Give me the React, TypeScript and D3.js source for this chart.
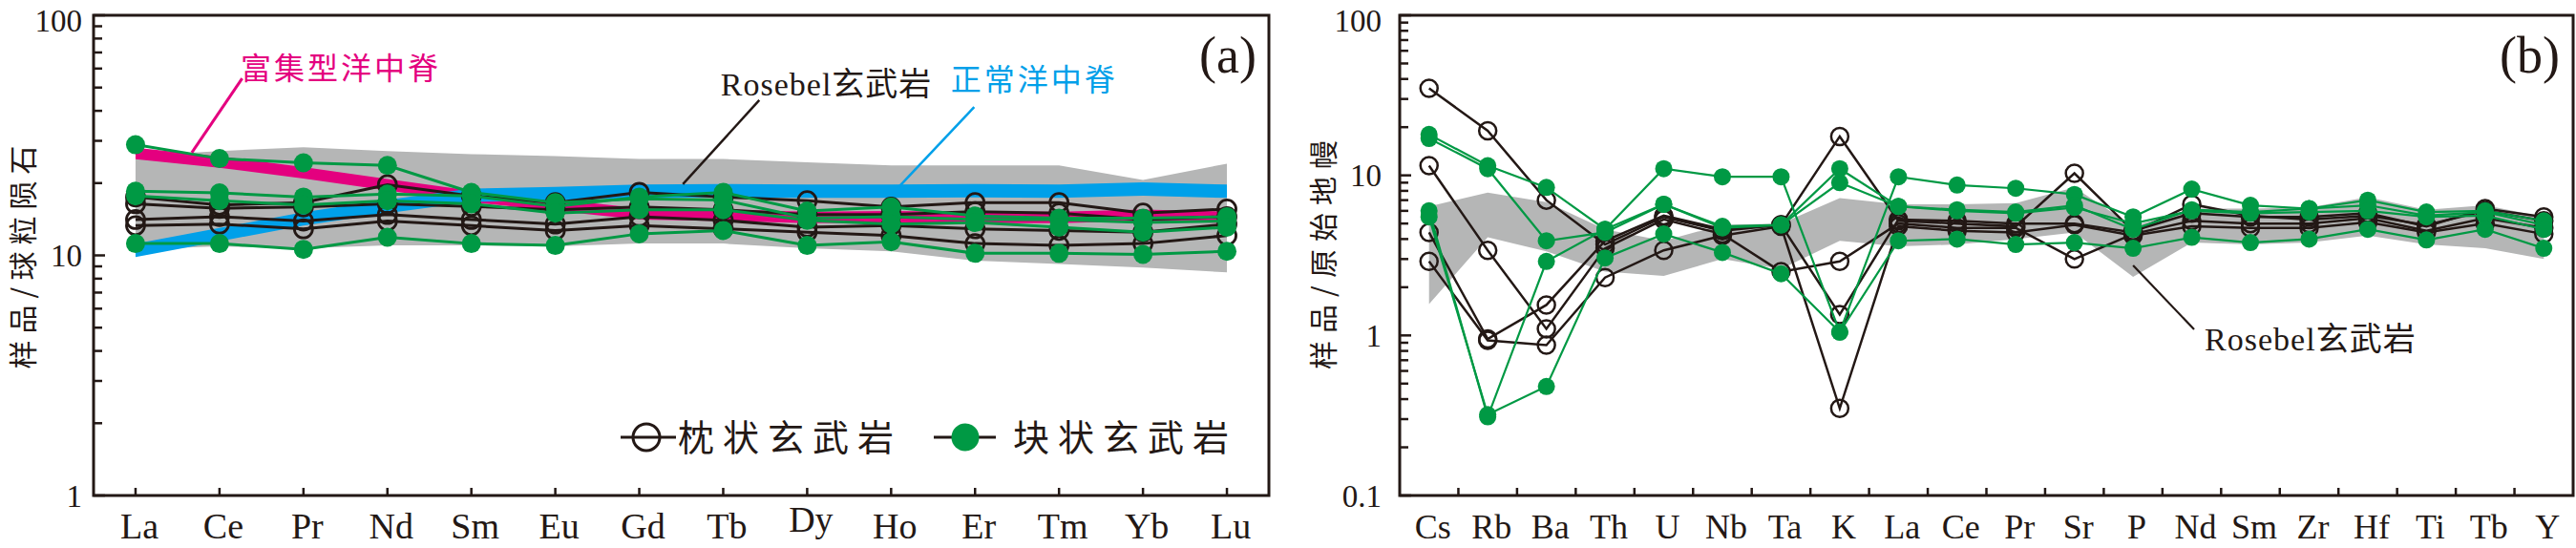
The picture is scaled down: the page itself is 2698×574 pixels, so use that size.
import * as d3 from 'd3';

const W = 2698;
const H = 574;

const INK = '#231815';
const GREEN = '#009944';
const PINK = '#e4007f';
const BLUE = '#00a0e9';
const FIELD = '#b5b6b6';
const SERIF = '"Liberation Serif", "Noto Sans CJK SC", serif';
const CJK = '"Noto Sans CJK SC", "Liberation Serif", sans-serif';

// (a) chondrite-normalised REE
const REE = ['La', 'Ce', 'Pr', 'Nd', 'Sm', 'Eu', 'Gd', 'Tb', 'Dy', 'Ho', 'Er', 'Tm', 'Yb', 'Lu'];
const reePillow = [
  [17.5, 16.2, 16.6, 19.7, 17.7, 16.6, 18.3, 17.5, 16.9, 15.9, 16.6, 16.6, 15.0, 15.6],
  [16.4, 15.7, 15.9, 16.4, 16.0, 15.5, 15.9, 15.5, 14.8, 14.8, 15.2, 15.0, 14.1, 14.5],
  [14.1, 14.5, 13.9, 14.8, 14.1, 13.5, 14.5, 14.0, 13.1, 13.3, 12.9, 12.7, 12.5, 13.5],
  [13.3, 13.5, 12.9, 13.9, 13.3, 12.7, 13.3, 12.9, 12.5, 12.1, 11.2, 11.0, 11.2, 12.1],
];
const reeMassive = [
  [28.9, 25.3, 24.3, 23.7, 18.3, 16.6, 17.2, 17.0, 14.3, 14.5, 14.1, 14.1, 13.7, 13.9],
  [18.5, 18.2, 17.5, 18.0, 17.7, 16.0, 17.5, 18.3, 15.3, 15.9, 14.6, 14.3, 14.3, 14.5],
  [17.7, 16.9, 16.2, 16.9, 16.4, 15.0, 15.5, 15.5, 14.0, 13.5, 13.7, 13.1, 12.5, 13.1],
  [11.2, 11.2, 10.6, 11.9, 11.2, 11.0, 12.3, 12.7, 11.0, 11.4, 10.2, 10.2, 10.1, 10.4],
];
const reeFieldHigh = [26.0, 27.2, 28.2, 27.2, 26.4, 25.9, 25.2, 25.2, 24.4, 23.7, 23.7, 23.7, 20.6, 24.1];
const reeFieldLow = [10.6, 10.9, 10.7, 11.0, 11.0, 10.9, 11.2, 11.2, 10.7, 10.4, 9.5, 9.2, 8.9, 8.5];
const emorb = [26.6, 24.5, 22.1, 19.7, 17.6, 16.2, 14.9, 14.7, 14.4, 14.5, 14.4, 14.4, 14.7, 14.4];
const nmorb = [10.5, 12.2, 14.2, 16.0, 17.8, 18.1, 18.5, 18.6, 18.5, 18.5, 18.6, 18.5, 18.9, 18.5];

// (b) primitive-mantle-normalised trace elements
const SPIDER = ['Cs', 'Rb', 'Ba', 'Th', 'U', 'Nb', 'Ta', 'K', 'La', 'Ce', 'Pr', 'Sr', 'P', 'Nd', 'Sm', 'Zr', 'Hf', 'Ti', 'Tb', 'Y'];
const spPillow = [
  [35, 19, 7.0, 3.7, 5.5, 4.5, 4.9, 17.5, 5.2, 5.0, 4.8, 10.3, 4.5, 5.8, 5.5, 5.5, 5.8, 4.8, 6.2, 5.5],
  [11.5, 3.4, 1.1, 3.5, 5.3, 4.3, 2.5, 2.9, 5.0, 4.7, 4.7, 3.0, 4.3, 5.2, 5.0, 5.0, 5.4, 4.5, 5.4, 4.7],
  [4.4, 0.95, 1.55, 3.9, 5.6, 4.6, 4.9, 1.35, 5.3, 5.2, 5.0, 5.0, 4.4, 6.6, 5.6, 5.3, 5.6, 4.9, 6.0, 5.2],
  [2.9, 0.93, 0.87, 2.3, 3.4, 4.2, 4.8, 0.35, 4.8, 4.5, 4.4, 4.9, 4.2, 4.8, 4.7, 4.7, 5.1, 4.4, 5.0, 4.3],
];
const spMassive = [
  [18, 11.5, 8.4, 4.6, 11, 9.8, 9.8, 1.05, 9.8, 8.7, 8.3, 7.6, 5.5, 8.2, 6.5, 6.2, 7.0, 5.9, 6.0, 5.2],
  [17, 11, 3.9, 4.4, 6.6, 4.8, 4.9, 11, 6.4, 6.1, 5.9, 6.5, 4.6, 6.1, 5.9, 6.2, 6.5, 5.6, 5.9, 4.9],
  [6.0, 0.31, 2.9, 4.6, 6.6, 4.7, 4.9, 9.0, 6.4, 6.0, 5.8, 6.3, 5.0, 6.0, 5.8, 5.9, 6.0, 5.5, 5.6, 4.6],
  [5.5, 0.32, 0.48, 3.05, 4.3, 3.3, 2.43, 1.05, 3.9, 4.0, 3.7, 3.8, 3.5, 4.1, 3.8, 4.0, 4.6, 3.95, 4.6, 3.5],
];
const spFieldHigh = [6.4, 7.8, 6.8, 4.6, 3.9, 4.9, 5.0, 7.2, 6.6, 6.6, 6.7, 8.4, 4.8, 6.2, 6.2, 6.3, 7.3, 6.1, 6.5, 5.5];
const spFieldLow = [1.57, 4.1, 3.35, 2.5, 2.35, 3.0, 2.6, 3.9, 3.6, 3.7, 4.0, 4.4, 2.32, 3.8, 3.7, 3.8, 4.2, 3.7, 3.5, 3.0];

const yTicksA = [1, 10, 100];
const yTicksB = [0.1, 1, 10, 100];

export default function App() {
  const xA = d3.scaleLinear().domain([-0.5, REE.length - 0.5]).range([98, 1329]);
  const yA = d3.scaleLog().domain([1, 100]).range([519, 16]);
  const xB = d3.scaleLinear().domain([-0.5, SPIDER.length - 0.5]).range([1466, 2695]);
  const yB = d3.scaleLog().domain([0.1, 100]).range([519, 16]);

  const lineA = d3.line<number>().x((_, i) => xA(i)).y((d) => yA(d));
  const lineB = d3.line<number>().x((_, i) => xB(i)).y((d) => yB(d));
  const fieldA = d3.area<number>().x((_, i) => xA(i)).y0((_, i) => yA(reeFieldLow[i])).y1((d) => yA(d));
  const fieldB = d3.area<number>().x((_, i) => xB(i)).y0((_, i) => yB(spFieldLow[i])).y1((d) => yB(d));
  const band = (half: number) =>
    d3.area<number>().x((_, i) => xA(i)).y0((d) => yA(d) + half).y1((d) => yA(d) - half);

  const isMajor = (v: number) => Math.abs(Math.log10(v) - Math.round(Math.log10(v))) < 1e-6;
  // labels with a descender sit a little higher, as in the source figure
  const lift = (s: string) => (/[gjpqy]/.test(s) ? 7 : 0);
  const LABEL_Y = 564;
  // keep the top tick label inside the page
  const tickY = (v: number) => Math.max(v, 21);

  const frame = (x0: number, x1: number, y0: number, y1: number) => (
    <rect x={x0} y={y1} width={x1 - x0} height={y0 - y1} fill="none" stroke={INK} strokeWidth={3} />
  );

  const leftTicks = (y: d3.ScaleLogarithmic<number, number>, x0: number) =>
    y.ticks().map((t, i) => (
      <line key={i} x1={x0} x2={x0 + (isMajor(t) ? 12 : 9)} y1={y(t)} y2={y(t)} stroke={INK} strokeWidth={2.5} />
    ));

  return (
    <svg width={W} height={H} style={{ position: 'absolute', left: 0, top: 0, background: '#fff' }}>
      {/* ---------- panel (a) ---------- */}
      <path d={fieldA(reeFieldHigh) ?? ''} fill={FIELD} />
      <path d={band(6)(emorb) ?? ''} fill={PINK} />
      <path d={band(7)(nmorb) ?? ''} fill={BLUE} />

      {reePillow.map((s, k) => (
        <path key={'pa' + k} d={lineA(s) ?? ''} fill="none" stroke={INK} strokeWidth={3} />
      ))}
      {reePillow.map((s, k) =>
        s.map((v, i) => (
          <circle key={`pca${k}-${i}`} cx={xA(i)} cy={yA(v)} r={9.5} fill="none" stroke={INK} strokeWidth={2.8} />
        ))
      )}
      {reeMassive.map((s, k) => (
        <path key={'ma' + k} d={lineA(s) ?? ''} fill="none" stroke={GREEN} strokeWidth={3} />
      ))}
      {reeMassive.map((s, k) =>
        s.map((v, i) => <circle key={`mca${k}-${i}`} cx={xA(i)} cy={yA(v)} r={10} fill={GREEN} />)
      )}

      {frame(98, 1329, 519, 16)}
      {leftTicks(yA, 98)}
      {REE.map((e, i) => (
        <g key={e}>
          <line x1={xA(i)} x2={xA(i)} y1={519} y2={511} stroke={INK} strokeWidth={2.5} />
          <text x={xA(i) + 4} y={LABEL_Y - lift(e)} textAnchor="middle" fontFamily={SERIF} fontSize={38} fill={INK}>
            {e}
          </text>
        </g>
      ))}
      {yTicksA.map((t) => (
        <text key={t} x={86} y={tickY(yA(t))} dy="0.35em" textAnchor="end" fontFamily={SERIF} fontSize={33} fill={INK}>
          {String(t)}
        </text>
      ))}
      <text
        transform="translate(24,266) rotate(-90)"
        textAnchor="middle"
        dy="0.35em"
        fontFamily={CJK}
        fontSize={30}
        letterSpacing={7}
        fill={INK}
      >
        样品/球粒陨石
      </text>

      {/* annotations (a) */}
      <line x1={xA(0.67)} y1={yA(26.8)} x2={xA(1.27)} y2={yA(54.6)} stroke={PINK} strokeWidth={3} />
      <text x={xA(1.25)} y={yA(54)} fontFamily={CJK} fontSize={32} letterSpacing={3} fill={PINK}>
        富集型洋中脊
      </text>
      <line x1={xA(6.52)} y1={yA(19.8)} x2={xA(7.43)} y2={yA(44.3)} stroke={INK} strokeWidth={2.5} />
      <text x={xA(6.97)} y={yA(46.4)} fontFamily={SERIF} fontSize={34} letterSpacing={1} fill={INK}>
        Rosebel玄武岩
      </text>
      <line x1={xA(9.08)} y1={yA(19.1)} x2={xA(9.99)} y2={yA(41.5)} stroke={BLUE} strokeWidth={2.5} />
      <text x={xA(9.71)} y={yA(48.5)} fontFamily={CJK} fontSize={32} letterSpacing={3} fill={BLUE}>
        正常洋中脊
      </text>
      <text x={1316} y={76} textAnchor="end" fontFamily={SERIF} fontSize={54} fill={INK}>
        (a)
      </text>

      {/* legend (a) */}
      <line x1={650} x2={708} y1={458} y2={458} stroke={INK} strokeWidth={3} />
      <circle cx={677} cy={458} r={14} fill="none" stroke={INK} strokeWidth={3} />
      <text x={710} y={472} fontFamily={CJK} fontSize={38} letterSpacing={9} fill={INK}>
        枕状玄武岩
      </text>
      <line x1={978} x2={1043} y1={458} y2={458} stroke={INK} strokeWidth={3} />
      <circle cx={1011} cy={458} r={14.5} fill={GREEN} />
      <text x={1061} y={472} fontFamily={CJK} fontSize={38} letterSpacing={9} fill={INK}>
        块状玄武岩
      </text>

      {/* ---------- panel (b) ---------- */}
      <path d={fieldB(spFieldHigh) ?? ''} fill={FIELD} />
      {spPillow.map((s, k) => (
        <path key={'pb' + k} d={lineB(s) ?? ''} fill="none" stroke={INK} strokeWidth={2.5} />
      ))}
      {spPillow.map((s, k) =>
        s.map((v, i) => (
          <circle key={`pcb${k}-${i}`} cx={xB(i)} cy={yB(v)} r={9} fill="none" stroke={INK} strokeWidth={2.5} />
        ))
      )}
      {spMassive.map((s, k) => (
        <path key={'mb' + k} d={lineB(s) ?? ''} fill="none" stroke={GREEN} strokeWidth={2.2} />
      ))}
      {spMassive.map((s, k) =>
        s.map((v, i) => <circle key={`mcb${k}-${i}`} cx={xB(i)} cy={yB(v)} r={9} fill={GREEN} />)
      )}

      {frame(1466, 2695, 519, 16)}
      {leftTicks(yB, 1466)}
      {SPIDER.slice(0, -1).map((e, i) => (
        <line key={'tb' + e} x1={xB(i + 0.5)} x2={xB(i + 0.5)} y1={519} y2={511} stroke={INK} strokeWidth={2.5} />
      ))}
      {SPIDER.map((e, i) => (
        <text key={'lb' + e} x={xB(i) + 4} y={LABEL_Y - lift(e)} textAnchor="middle" fontFamily={SERIF} fontSize={36} fill={INK}>
          {e}
        </text>
      ))}
      {yTicksB.map((t) => (
        <text key={t} x={1447} y={tickY(yB(t))} dy="0.35em" textAnchor="end" fontFamily={SERIF} fontSize={33} fill={INK}>
          {String(t)}
        </text>
      ))}
      <text
        transform="translate(1386,263) rotate(-90)"
        textAnchor="middle"
        dy="0.35em"
        fontFamily={CJK}
        fontSize={30}
        letterSpacing={8}
        fill={INK}
      >
        样品/原始地幔
      </text>

      <line x1={xB(12.0)} y1={yB(2.74)} x2={xB(13.04)} y2={yB(1.09)} stroke={INK} strokeWidth={2.2} />
      <text x={xB(13.22)} y={yB(0.805)} fontFamily={SERIF} fontSize={34} letterSpacing={1} fill={INK}>
        Rosebel玄武岩
      </text>
      <text x={2681} y={76} textAnchor="end" fontFamily={SERIF} fontSize={54} fill={INK}>
        (b)
      </text>
    </svg>
  );
}
